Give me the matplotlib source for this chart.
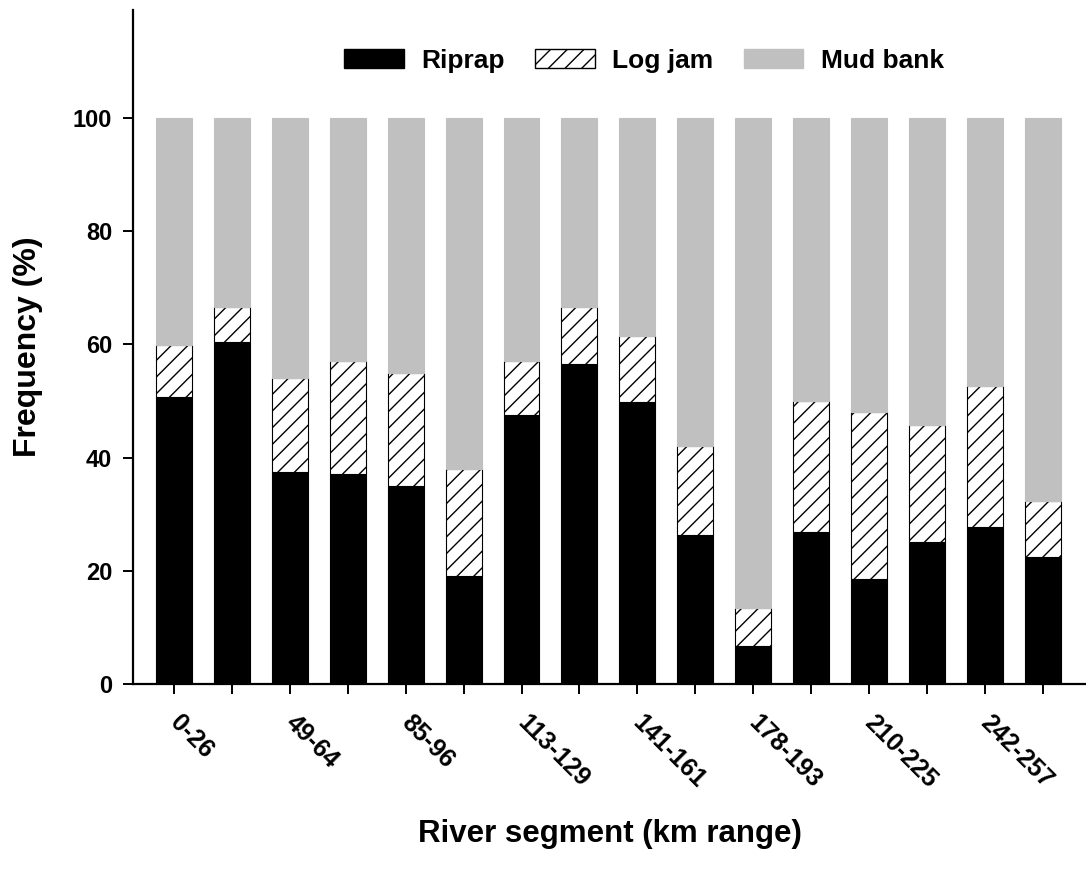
import matplotlib.pyplot as plt
import matplotlib.transforms as mtransforms
import numpy as np
from matplotlib.patches import Patch

plt.rcParams['font.family'] = ['Liberation Sans', 'DejaVu Sans']
plt.rcParams['font.weight'] = 'bold'
plt.rcParams['hatch.linewidth'] = 1.0

segments = ["0-26", "", "49-64", "", "85-96", "", "113-129", "",
            "141-161", "", "178-193", "", "210-225", "", "242-257", ""]
riprap = [50.7, 60.4, 37.5, 37.1, 35.0, 19.1, 47.5, 56.6,
          49.8, 26.3, 6.8, 26.9, 18.5, 25.1, 27.7, 22.4]
logjam_top = [59.9, 66.6, 54.0, 57.0, 54.9, 38.0, 57.1, 66.6,
              61.5, 42.0, 13.4, 49.9, 48.1, 45.7, 52.7, 32.4]
logjam = [t - r for t, r in zip(logjam_top, riprap)]
mudbank = [100 - t for t in logjam_top]

x = np.arange(len(segments))
w = 0.62

fig = plt.figure(figsize=(10.86, 8.76), dpi=100)
ax = fig.add_axes([0.1225, 0.219, 0.8775, 0.7695])

ax.bar(x, riprap, w, color="black", edgecolor="black", linewidth=0.8)
ax.bar(x, logjam, w, bottom=riprap, color="white", edgecolor="black",
       linewidth=0.8, hatch="//")
ax.bar(x, mudbank, w, bottom=logjam_top, color="#c0c0c0", edgecolor="#c0c0c0",
       linewidth=0.8)

ax.set_xlim(-0.71, 15.75)
ax.set_ylim(0, 119)
ax.set_yticks([0, 20, 40, 60, 80, 100])
ax.set_xticks(x)
ax.set_xticklabels(segments, rotation=-45, ha="left", va="top",
                   rotation_mode="anchor", fontsize=18, fontweight="bold")
ax.tick_params(axis="y", labelsize=17, direction="out", length=7, width=1.4, pad=8)
ax.tick_params(axis="x", direction="out", length=7, width=1.4, pad=12)
shift = mtransforms.ScaledTranslation(8 / 100, 0, fig.dpi_scale_trans)
for lab in ax.get_xticklabels():
    lab.set_transform(lab.get_transform() + shift)
ax.spines["top"].set_visible(False)
ax.spines["right"].set_visible(False)
ax.spines["left"].set_linewidth(1.6)
ax.spines["bottom"].set_linewidth(1.6)

ax.set_ylabel("Frequency (%)", fontsize=23, fontweight="bold")
ax.yaxis.set_label_coords(-0.095, 0.5)
ax.set_xlabel("River segment (km range)", fontsize=22.5, fontweight="bold")
ax.xaxis.set_label_coords(0.5, -0.2)

handles = [Patch(facecolor="black", edgecolor="black"),
           Patch(facecolor="white", edgecolor="black", hatch="//"),
           Patch(facecolor="#c0c0c0", edgecolor="#c0c0c0")]
ax.legend(handles, ["Riprap", "Log jam", "Mud bank"], ncol=3, frameon=False,
          loc="center", bbox_to_anchor=(0.5365, 0.925),
          handlelength=2.24, handleheight=0.76, handletextpad=0.68,
          columnspacing=1.15, prop={"weight": "bold", "size": 19})

fig.savefig("out.png", dpi=100)
